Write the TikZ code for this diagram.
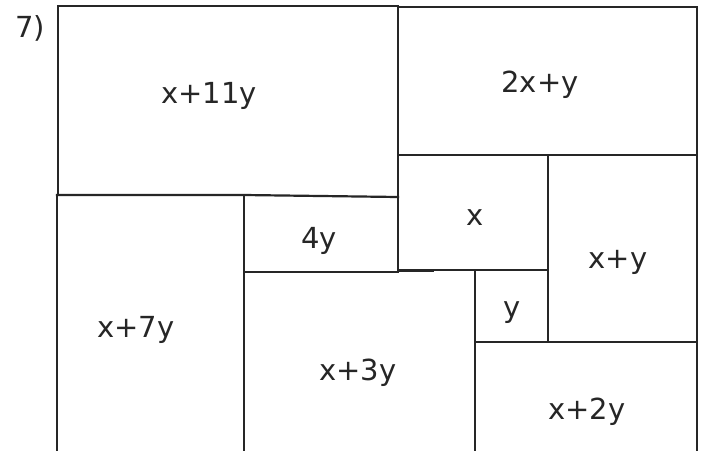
\documentclass[tikz,border=0pt]{standalone}
\usepackage{fontspec}
\setmainfont{DejaVu Sans}
\begin{document}
\begin{tikzpicture}[x=1pt,y=-1pt,
  wall/.style={line width=2.2pt,color=black!85,line cap=rect},
  lbl/.style={font=\fontsize{29}{34}\selectfont,text=black!85,inner sep=0pt}]
\useasboundingbox (0,0) rectangle (703,450);
\fill[white] (0,0) rectangle (703,450);
% outer frame
\draw[wall] (58,195) -- (58,6) -- (398,6);
\draw[wall] (398,7) -- (697,7) -- (697,450);
\draw[wall] (57,195) -- (57,450);
% internal walls
\draw[wall] (398,6) -- (398,270);
\draw[wall] (57,195) -- (244,195) -- (398,197);
\draw[wall] (398,155) -- (697,155);
\draw[wall] (244,196) -- (244,450);
\draw[wall] (244,272) -- (398,272);
\draw[wall] (398,270) -- (548,270);
\draw[line width=3.2pt,color=black!85] (398,270.5) -- (434,270.5);
\draw[wall] (548,155) -- (548,342);
\draw[wall] (475,270) -- (475,450);
\draw[wall] (475,342) -- (697,342);
% labels
\node[lbl] (n7)   at (30,28)  {7)};
\node[lbl] (a11)  at (209,96) {x+11y};
\node[lbl] (b2)   at (540,85) {2x+y};
\node[lbl] (cx)   at (475,218) {x};
\node[lbl] (d4)   at (319,241) {4y};
\node[lbl] (exy)  at (618,262) {x+y};
\node[lbl] (fy)   at (512,313) {y};
\node[lbl] (g7)   at (136,330) {x+7y};
\node[lbl] (h3)   at (358,373) {x+3y};
\node[lbl] (i2)   at (587,412) {x+2y};
\end{tikzpicture}
\end{document}
